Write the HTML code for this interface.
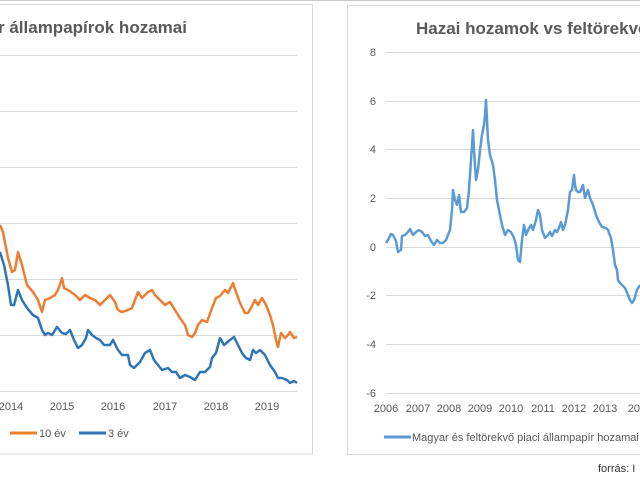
<!DOCTYPE html>
<html><head><meta charset="utf-8"><style>
body{margin:0;background:#fff;}
svg{display:block;font-family:"Liberation Sans",sans-serif;}
</style></head><body>
<svg width="640" height="480" viewBox="0 0 640 480">
<rect width="640" height="480" fill="#fff"/>
<line x1="0" y1="0.5" x2="640" y2="0.5" stroke="#ccc"/>
<!-- left box -->
<rect x="-2" y="4.5" width="314.5" height="449.5" fill="#fff" stroke="#d9d9d9"/>
<text x="-2" y="33" font-size="17" font-weight="bold" fill="#595959">r állampapírok hozamai</text>
<g stroke="#d9d9d9" stroke-width="1">
<line x1="0" y1="55.5" x2="297" y2="55.5"/><line x1="0" y1="111.5" x2="297" y2="111.5"/>
<line x1="0" y1="167.5" x2="297" y2="167.5"/><line x1="0" y1="223.5" x2="297" y2="223.5"/>
<line x1="0" y1="279.5" x2="297" y2="279.5"/><line x1="0" y1="335.5" x2="297" y2="335.5"/>
<line x1="0" y1="391.5" x2="297" y2="391.5"/>
</g>
<g font-size="11" fill="#595959" text-anchor="middle">
<text x="11" y="410">2014</text><text x="62" y="410">2015</text><text x="113" y="410">2016</text>
<text x="165" y="410">2017</text><text x="216" y="410">2018</text><text x="267" y="410">2019</text>
</g>
<polyline fill="none" stroke="#ed7d31" stroke-width="2.5" stroke-linejoin="round" points="0,225 3,232 8,258 12,272 15,270 18,252 22,265 27,285 33,292 38,300 42,312 45,300 50,298 55,295 58,290 62,278 64,288 68,290 75,295 80,300 85,295 90,298 95,300 100,305 105,300 110,295 115,302 118,310 122,312 128,310 132,308 135,300 138,292 142,298 148,292 152,290 155,295 160,300 165,305 170,302 175,310 180,318 185,325 188,335 192,337 195,333 198,325 202,320 207,322 212,308 216,298 220,296 225,290 228,293 233,283 236,292 240,303 245,313 248,313 252,306 255,300 258,305 262,298 266,305 270,315 273,325 276,340 278,347 281,333 285,338 288,335 290,332 294,338 297,337"/>
<polyline fill="none" stroke="#2e75b6" stroke-width="2.5" stroke-linejoin="round" points="0,252 4,265 8,285 11,305 14,305 18,290 22,300 27,308 33,315 38,318 42,330 45,335 48,333 52,335 57,327 62,333 66,334 70,330 74,340 78,348 82,345 86,338 88,330 92,335 96,338 100,340 104,345 110,345 113,340 118,350 122,355 128,355 130,365 134,368 140,362 145,353 150,350 154,360 158,365 162,370 168,368 172,372 176,372 180,378 185,375 190,377 195,380 200,372 205,372 210,367 212,358 216,353 220,338 224,345 230,340 234,337 238,345 242,353 246,358 250,360 253,350 256,353 260,350 265,355 270,365 275,372 278,378 282,378 287,380 290,383 294,381 297,383"/>
<line x1="10" y1="433" x2="37" y2="433" stroke="#ed7d31" stroke-width="3"/>
<text x="39" y="437" font-size="11" fill="#595959">10 év</text>
<line x1="79" y1="433" x2="106" y2="433" stroke="#2e75b6" stroke-width="3"/>
<text x="108" y="437" font-size="11" fill="#595959">3 év</text>
<!-- right box -->
<rect x="347.5" y="5.5" width="300" height="449" fill="#fff" stroke="#d9d9d9"/>
<text x="416" y="34" font-size="17" font-weight="bold" fill="#595959">Hazai hozamok vs feltörekvő piacok</text>
<g stroke="#d9d9d9" stroke-width="1">
<line x1="386" y1="52.5" x2="640" y2="52.5"/><line x1="386" y1="101.5" x2="640" y2="101.5"/>
<line x1="386" y1="149.5" x2="640" y2="149.5"/><line x1="386" y1="198.5" x2="640" y2="198.5"/>
<line x1="386" y1="247.5" x2="640" y2="247.5"/><line x1="386" y1="295.5" x2="640" y2="295.5"/>
<line x1="386" y1="344.5" x2="640" y2="344.5"/><line x1="386" y1="393.5" x2="640" y2="393.5"/>
</g>
<g font-size="11" fill="#595959" text-anchor="end">
<text x="376" y="56">8</text><text x="376" y="105">6</text><text x="376" y="153">4</text>
<text x="376" y="202">2</text><text x="376" y="251">0</text><text x="376" y="299">-2</text>
<text x="376" y="348">-4</text><text x="376" y="397">-6</text>
</g>
<g font-size="11" fill="#595959" text-anchor="middle">
<text x="386" y="412">2006</text><text x="418" y="412">2007</text><text x="449" y="412">2008</text>
<text x="480" y="412">2009</text><text x="511" y="412">2010</text><text x="543" y="412">2011</text>
<text x="574" y="412">2012</text><text x="605" y="412">2013</text><text x="640" y="412">2014</text>
</g>
<polyline fill="none" stroke="#5b9bd5" stroke-width="2.5" stroke-linejoin="round" points="386,243 388,240 391,234 393,235 396,241 398,252 401,250 402,236 405,235 408,232 410,229 413,235 416,232 419,230 422,232 425,236 428,235 431,241 434,245 437,240 440,243 443,243 446,240 448,235 450,230 452,210 453,190 455,200 457,205 459,195 461,212 464,212 467,208 469,190 471,160 472,146 473,130 474,150 476,180 478,170 480,150 482,135 484,125 485,115 486,100 487,120 488,140 490,155 493,165 495,180 497,200 499,210 502,225 505,235 508,230 511,232 514,238 516,245 518,260 520,262 522,240 524,225 526,235 528,230 531,225 533,230 536,220 538,210 540,215 542,230 545,238 548,235 550,232 552,236 555,230 557,232 559,228 561,222 563,230 565,225 568,210 570,192 572,190 574,175 575,185 576,190 578,192 580,192 583,185 585,198 588,190 590,198 593,205 596,215 599,222 602,227 606,228 608,230 611,238 613,250 615,265 617,270 618,280 620,283 622,285 625,288 628,295 630,300 632,303 634,300 637,290 640,285"/>
<line x1="384" y1="437" x2="411" y2="437" stroke="#5b9bd5" stroke-width="3"/>
<text x="412" y="441" font-size="11" fill="#595959">Magyar és feltörekvő piaci állampapír hozamai</text>
<text x="598" y="472" font-size="11" fill="#333">forrás: I</text>
</svg>
</body></html>
